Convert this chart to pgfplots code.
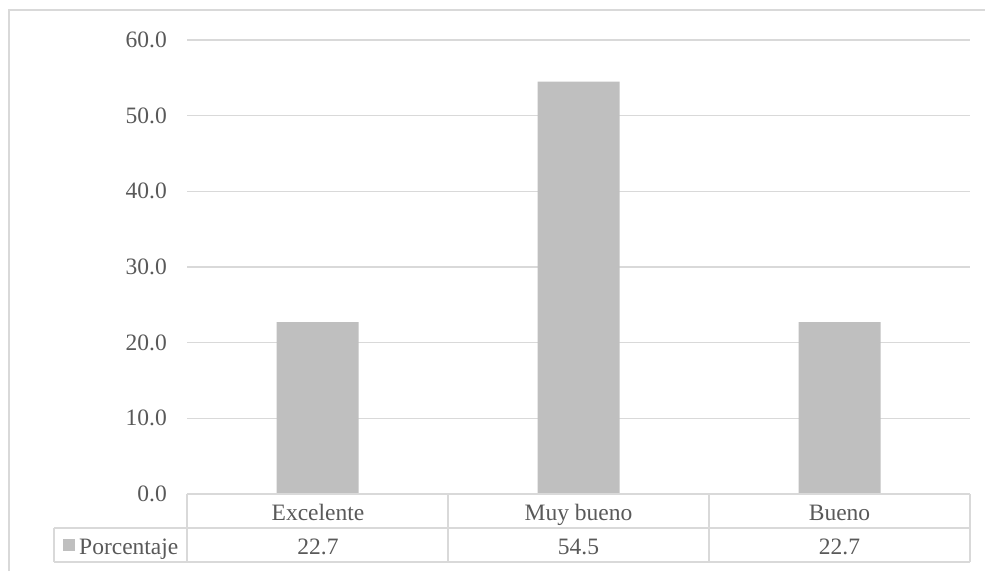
\documentclass[border=0pt]{standalone}
\usepackage{pgfplots}
\pgfplotsset{compat=1.18}
\usepackage{fontspec}
\setmainfont{Liberation Serif}
\definecolor{barc}{HTML}{BFBFBF}
\definecolor{gridc}{HTML}{D9D9D9}
\definecolor{txt}{HTML}{595959}
\begin{document}
\fontsize{23.5}{28}\selectfont
\begin{tikzpicture}[x=1pt,y=1pt]
\path[use as bounding box] (0,0) rectangle (985,-571);
\draw[gridc, line width=1.3pt] (9,-571) -- (9,-10) -- (985,-10);
\begin{axis}[at={(187pt,-494pt)}, anchor=south west, scale only axis,
  width=783pt, height=454pt,
  xmin=-0.5, xmax=2.5, ymin=0, ymax=60, ytick={0,10,...,60}, xtick=\empty,
  axis line style={draw=none}, major tick length=0pt,
  ymajorgrids, grid style={gridc, line width=1.3pt},
  yticklabel={\pgfmathprintnumber[fixed,fixed zerofill,precision=1,assume math mode=true]{\tick}},
  yticklabel style={text=txt, font=\fontsize{23.5}{28}\selectfont, inner sep=0pt, xshift=-20pt},
  ybar, bar width=82pt, clip=false]
\addplot[fill=barc, draw=none] coordinates {(0,22.7) (1,54.5) (2,22.7)};
\end{axis}
\draw[gridc, line width=1.3pt]
  (187,-494) -- (970,-494)
  (54,-528) -- (970,-528)
  (54,-562) -- (970,-562)
  (54,-528) -- (54,-562)
  (187,-494) -- (187,-562)
  (448,-494) -- (448,-562)
  (709,-494) -- (709,-562)
  (970,-494) -- (970,-562);
\begin{scope}[every node/.style={text=txt, inner sep=0pt, anchor=base}]
\node at (318,-520) {Excelente};
\node at (578.5,-520) {Muy bueno};
\node at (839.5,-520) {Bueno};
\node at (318,-554) {22.7};
\node at (578.5,-554) {54.5};
\node at (839.5,-554) {22.7};
\node[anchor=base west] at (79,-554) {Porcentaje};
\end{scope}
\fill[barc] (63,-539) rectangle (75,-551);
\end{tikzpicture}
\end{document}
